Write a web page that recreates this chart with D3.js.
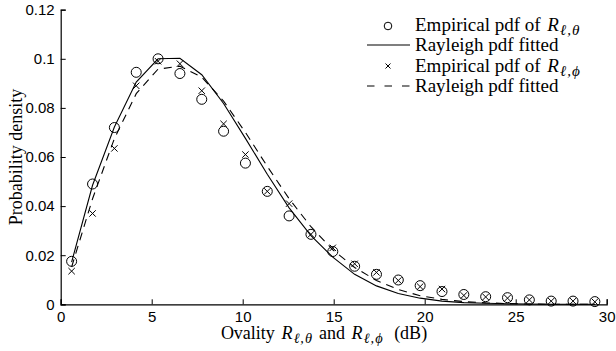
<!DOCTYPE html>
<html><head><meta charset="utf-8">
<script src="https://cdn.jsdelivr.net/npm/d3@7"></script>
<style>body{margin:0;background:#fff}svg{display:block}</style>
</head><body>
<script>
const xs = [0.6,1.75,2.95,4.15,5.35,6.55,7.75,8.95,10.15,11.35,12.55,13.75,14.95,16.15,17.35,18.55,19.75,20.95,22.15,23.35,24.55,25.75,26.95,28.15,29.35];
const empTheta = [0.0175,0.049,0.072,0.0945,0.100,0.094,0.0835,0.0705,0.0575,0.046,0.036,0.0285,0.0215,0.0155,0.0122,0.0099,0.0076,0.0052,0.0040,0.0031,0.0027,0.0018,0.0013,0.0013,0.0011];
const fitTheta = [0.0172,0.0485,0.0722,0.0905,0.1000,0.1002,0.0935,0.0818,0.0676,0.0530,0.0393,0.0280,0.0192,0.0122,0.0075,0.0044,0.0025,0.0013,0.0007,0.0004,0.0002,0.0001,0.0000,0.0000,0.0000];
const empPhi = [0.0135,0.037,0.0635,0.089,0.099,0.098,0.087,0.0735,0.061,0.046,0.041,0.0285,0.023,0.0165,0.013,0.0097,0.0072,0.0062,0.0036,0.0030,0.0025,0.0018,0.0013,0.0013,0.0010];
const fitPhi = [0.0152,0.0430,0.0675,0.0858,0.0958,0.0970,0.0925,0.0828,0.0700,0.0562,0.0430,0.0316,0.0222,0.0150,0.0097,0.0060,0.0035,0.0020,0.0011,0.0006,0.0003,0.0001,0.0000,0.0000,0.0000];
const xTicks = [0,5,10,15,20,25,30];
const yTicks = [0,0.02,0.04,0.06,0.08,0.1,0.12];

const W=616,H=351;
const svg=d3.select("body").append("svg").attr("width",W).attr("height",H);
svg.append("rect").attr("width",W).attr("height",H).attr("fill","#fff");
const x=d3.scaleLinear().domain([0,30]).range([60.7,606.7]);
const y=d3.scaleLinear().domain([0,0.12]).range([304.3,9.7]);

const gx=svg.append("g").attr("transform",`translate(0,${y(0)})`)
  .call(d3.axisBottom(x).tickValues(xTicks).tickSize(-5).tickPadding(6).tickFormat(d3.format("d")));
const gy=svg.append("g").attr("transform",`translate(${x(0)},0)`)
  .call(d3.axisLeft(y).tickValues(yTicks).tickSize(-5).tickPadding(6).tickFormat(d=>d===0?"0":String(+d.toFixed(2))));
[gx,gy].forEach(g=>{
  g.select(".domain").attr("stroke","#000").attr("stroke-width",1.2);
  g.selectAll(".tick line").attr("stroke","#000");
  g.selectAll("text").attr("font-family","Liberation Sans, Arial, sans-serif").attr("font-size",15).attr("fill","#000");
});
gx.selectAll("text").attr("dy","0.75em");

const pts=xs.map((v,i)=>i);
const line=arr=>d3.line().x(i=>x(xs[i])).y(i=>y(arr[i]))(pts);
svg.append("path").attr("d",line(fitTheta)).attr("fill","none").attr("stroke","#000").attr("stroke-width",1.1);
svg.append("path").attr("d",line(fitPhi)).attr("fill","none").attr("stroke","#000").attr("stroke-width",1.1).attr("stroke-dasharray","8,6");

svg.append("g").selectAll("circle").data(pts).join("circle")
  .attr("cx",i=>x(xs[i])).attr("cy",i=>y(empTheta[i])).attr("r",5)
  .attr("fill","none").attr("stroke","#000").attr("stroke-width",1);
const cs=3.2;
svg.append("g").selectAll("path").data(pts).join("path")
  .attr("d",i=>{const cx=x(xs[i]),cy=y(empPhi[i]);return `M${cx-cs},${cy-cs}L${cx+cs},${cy+cs}M${cx-cs},${cy+cs}L${cx+cs},${cy-cs}`;})
  .attr("fill","none").attr("stroke","#000").attr("stroke-width",1);

const serif="Liberation Serif, Times New Roman, serif";
svg.append("text").attr("transform","translate(22,157) rotate(-90)").attr("text-anchor","middle")
  .attr("font-family",serif).attr("font-size",18).text("Probability density");

function mathR(t,sub){
  t.append("tspan").attr("font-style","italic").attr("dx",2).text("R");
  t.append("tspan").attr("font-size","0.8em").attr("dy",4).attr("dx",1).attr("letter-spacing",1).attr("font-style","italic").text(sub);
  t.append("tspan").attr("dy",-4).text("\u200a");
}
const xl=svg.append("text").attr("x",324).attr("y",339).attr("text-anchor","middle").attr("font-family",serif).attr("font-size",18);
xl.append("tspan").text("Ovality ");
mathR(xl,"ℓ,θ");
xl.append("tspan").text(" and ");
mathR(xl,"ℓ,ϕ");
xl.append("tspan").text(" \u00a0(dB)");

const lg=svg.append("g");
const rows=[25,45,66,86];
const labels=[["Empirical pdf of ","ℓ,θ"],["Rayleigh pdf fitted",null],["Empirical pdf of ","ℓ,ϕ"],["Rayleigh pdf fitted",null]];
rows.forEach((ry,k)=>{
  const t=lg.append("text").attr("x",415).attr("y",ry+6).attr("font-family",serif).attr("font-size",19);
  t.append("tspan").text(labels[k][0]);
  if(labels[k][1]) mathR(t,labels[k][1]);
});
lg.append("circle").attr("cx",388).attr("cy",rows[0]+1).attr("r",3.8).attr("fill","none").attr("stroke","#000");
lg.append("line").attr("x1",367).attr("x2",410).attr("y1",rows[1]).attr("y2",rows[1]).attr("stroke","#000").attr("stroke-width",1.1);
const c2=2.5;
lg.append("path").attr("d",`M${388-c2},${rows[2]-c2}L${388+c2},${rows[2]+c2}M${388-c2},${rows[2]+c2}L${388+c2},${rows[2]-c2}`).attr("stroke","#000");
lg.append("line").attr("x1",367).attr("x2",410).attr("y1",rows[3]).attr("y2",rows[3]).attr("stroke","#000").attr("stroke-width",1.1).attr("stroke-dasharray","7.5,10");
</script>
</body></html>
